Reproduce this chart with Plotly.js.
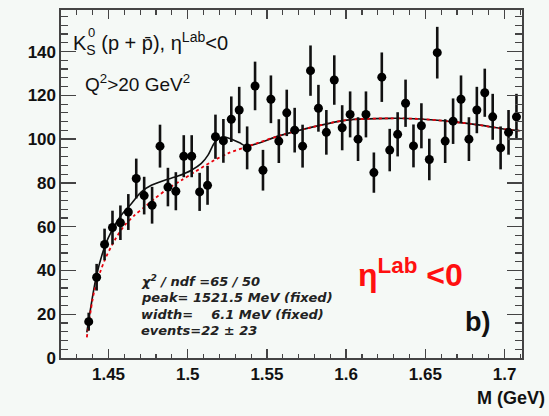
<!DOCTYPE html>
<html>
<head>
<meta charset="utf-8">
<script src="https://cdn.plot.ly/plotly-3.0.1.min.js"></script>
<style>html,body{margin:0;padding:0;background:#f5f9f6;}</style>
</head>
<body>
<div id="chart" style="width:549px;height:416px;"></div>
<script>
// Bin centres (GeV)
const mass = [1.4375,1.4425,1.4475,1.4525,1.4575,1.4625,1.4675,1.4725,1.4775,1.4825,
  1.4875,1.4925,1.4975,1.5025,1.5075,1.5125,1.5175,1.5225,1.5275,1.5325,
  1.5375,1.5425,1.5475,1.5525,1.5575,1.5625,1.5675,1.5725,1.5775,1.5825,
  1.5875,1.5925,1.5975,1.6025,1.6075,1.6125,1.6175,1.6225,1.6275,1.6325,
  1.6375,1.6425,1.6475,1.6525,1.6575,1.6625,1.6675,1.6725,1.6775,1.6825,
  1.6875,1.6925,1.6975,1.7025,1.7075];
// Entries per bin
const counts = [16.6,36.9,51.9,59.6,61.8,66.7,82.0,74.2,69.8,96.8,
  78.1,76.2,92.2,92.2,75.9,78.9,101.1,99.2,109.1,113.3,
  96.0,124.3,85.8,118.2,99.1,112.0,104.1,96.8,131.3,114.1,
  103.1,127.0,105.2,111.3,100.0,111.3,84.7,128.3,95.0,102.2,
  116.4,96.9,106.1,90.7,139.5,99.1,108.2,118.2,100.0,113.3,
  121.2,110.2,96.0,103.1,110.2];
// Statistical errors
const errors = [4.1,6.1,7.2,7.7,7.9,8.2,9.1,8.6,8.4,9.8,
  8.8,8.7,9.6,9.6,8.7,8.9,10.1,10.0,10.4,10.6,
  9.8,11.1,9.3,10.9,10.0,10.6,10.2,9.8,11.5,10.7,
  10.2,11.3,10.3,10.5,10.0,10.5,9.2,11.3,9.7,10.1,
  10.8,9.8,10.3,9.5,11.8,10.0,10.4,10.9,10.0,10.6,
  11.0,10.5,9.8,10.2,10.5];
// Full fit (signal + background)
const fitX = [1.4363,1.4422,1.4475,1.4527,1.4580,1.4644,1.4707,1.4770,1.4854,1.4938,
  1.5023,1.5086,1.5128,1.5170,1.5215,1.5265,1.5328,1.5371,1.5581,1.5792,
  1.6003,1.6277,1.6467,1.6677,1.6846,1.7015,1.7099];
const fitY = [11.7,36.9,50.7,59.1,65.2,70.5,75.9,78.9,81.2,83.1,
  85.8,88.9,92.7,98.5,101.0,100.3,98.3,96.8,101.6,105.6,
  108.7,109.5,109.2,107.9,106.4,104.4,103.8];
// Background-only curve
const bgX = [1.4363,1.4411,1.4475,1.4538,1.4601,1.4664,1.4728,1.4791,1.4875,1.4960,
  1.5044,1.5149,1.5254,1.5371,1.5581,1.5792,1.6003,1.6277,1.6467,1.6677,
  1.6846,1.7015,1.7099];
const bgY = [9.4,30.8,44.6,53.7,60.6,65.2,69.0,72.8,77.4,81.2,
  85.0,89.6,93.5,96.5,101.6,105.6,108.7,109.5,109.2,107.9,
  106.4,104.4,103.8];
// Axis ticks
const xTickVals = [1.45,1.5,1.55,1.6,1.65,1.7];
const xTickText = ['1.45','1.5','1.55','1.6','1.65','1.7'];
const yTickVals = [0,20,40,60,80,100,120,140];
const yTickText = ['0','20','40','60','80','100','120','140'];
// Fit summary lines
const fitInfo = ['\u03c7<sup>2</sup> / ndf =65 / 50', 'peak= 1521.5 MeV (fixed)',
  'width=&nbsp;&nbsp;&nbsp;&nbsp;6.1 MeV (fixed)', 'events=22 \u00b1 23'];

const FONT = 'Liberation Sans, Arial, Helvetica, sans-serif';
const INFOFONT = 'DejaVu Sans, Liberation Sans, sans-serif';
const AX = '#444';

const traces = [
  {x: fitX, y: fitY, type: 'scatter', mode: 'lines',
   line: {color: '#111', width: 1.6, shape: 'spline', smoothing: 0.8}, hoverinfo: 'skip'},
  {x: bgX, y: bgY, type: 'scatter', mode: 'lines',
   line: {color: '#e8000b', width: 1.8, dash: 'dot', shape: 'spline', smoothing: 0.8}, hoverinfo: 'skip'},
  {x: mass, y: counts, type: 'scatter', mode: 'markers',
   marker: {color: '#000', size: 9},
   error_y: {type: 'data', array: errors, visible: true, width: 0, thickness: 2.6, color: '#111'}}
];

const infoY = [0.220, 0.173, 0.126, 0.078];
const infoAnn = fitInfo.map((t, i) => ({
  xref: 'paper', yref: 'paper', x: 0.169, y: infoY[i], xanchor: 'left', yanchor: 'middle', showarrow: false,
  text: t, font: {family: INFOFONT, size: 13, style: 'italic', weight: 'bold', color: '#222'}
}));

const layout = {
  width: 549, height: 416,
  margin: {l: 61, r: 27, t: 10, b: 58},
  paper_bgcolor: '#f5f9f6', plot_bgcolor: '#f5f9f6',
  showlegend: false,
  font: {family: FONT, color: '#111'},
  xaxis: {
    range: [1.42, 1.711], tickmode: 'array', tickvals: xTickVals, ticktext: xTickText,
    ticks: 'inside', ticklen: 9, tickwidth: 1.3, tickcolor: AX,
    minor: {tickmode: 'linear', tick0: 1.45, dtick: 0.01, ticks: 'inside', ticklen: 4.5, tickwidth: 1.2, tickcolor: AX},
    showline: true, linecolor: AX, linewidth: 1.6, mirror: 'ticks',
    showgrid: false, zeroline: false,
    tickfont: {family: FONT, size: 17, weight: 'bold', color: '#111'}
  },
  yaxis: {
    range: [0, 159], tickmode: 'array', tickvals: yTickVals, ticktext: yTickText,
    ticks: 'inside', ticklen: 15, tickwidth: 1.3, tickcolor: AX,
    minor: {tickmode: 'linear', tick0: 0, dtick: 4, ticks: 'inside', ticklen: 7, tickwidth: 1.2, tickcolor: AX},
    showline: true, linecolor: AX, linewidth: 1.6, mirror: 'ticks',
    showgrid: false, zeroline: false,
    tickfont: {family: FONT, size: 17, weight: 'bold', color: '#111'}
  },
  annotations: [
    {xref: 'paper', yref: 'paper', x: 0.022, y: 0.905, xanchor: 'left', yanchor: 'middle', showarrow: false,
     text: 'K<sub>S</sub> (p + p\u0304), \u03b7<sup>Lab</sup><0', font: {family: FONT, size: 20, color: '#111'}},
    {xref: 'paper', yref: 'paper', x: 0.055, y: 0.935, xanchor: 'left', yanchor: 'middle', showarrow: false,
     text: '0', font: {family: FONT, size: 13, color: '#111'}},
    {xref: 'paper', yref: 'paper', x: 0.048, y: 0.79, xanchor: 'left', yanchor: 'middle', showarrow: false,
     text: 'Q<sup>2</sup>>20 GeV<sup>2</sup>', font: {family: FONT, size: 19, color: '#111'}},
    ...infoAnn,
    {xref: 'paper', yref: 'paper', x: 0.640, y: 0.243, xanchor: 'left', yanchor: 'middle', showarrow: false,
     text: '\u03b7<sup>Lab</sup> <0', font: {family: FONT, size: 32, weight: 'bold', color: '#ff1010'}},
    {xref: 'paper', yref: 'paper', x: 0.871, y: 0.103, xanchor: 'left', yanchor: 'middle', showarrow: false,
     text: 'b)', font: {family: FONT, size: 27, weight: 'bold', color: '#111'}},
    {xref: 'paper', yref: 'paper', x: 1.054, y: -0.115, xanchor: 'right', yanchor: 'middle', showarrow: false,
     text: 'M (GeV)', font: {family: FONT, size: 18, weight: 'bold', color: '#111'}}
  ]
};

Plotly.newPlot('chart', traces, layout, {displayModeBar: false, staticPlot: true});
</script>
</body>
</html>
